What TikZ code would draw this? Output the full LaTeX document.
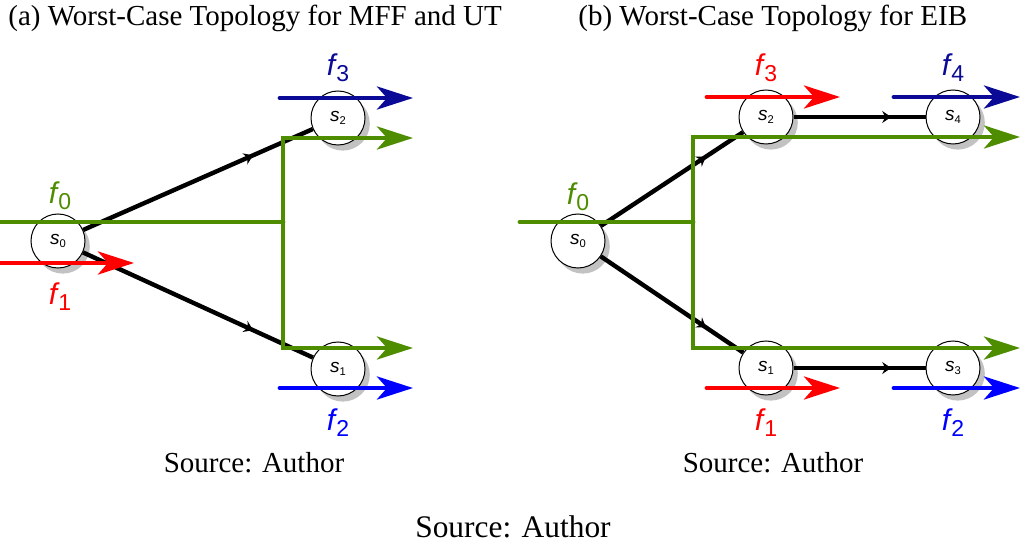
\documentclass[tikz,border=0pt]{standalone}
\usepackage{fontspec}
\setmainfont{Liberation Serif}
\newfontfamily\labelfont{Liberation Sans}
\usetikzlibrary{arrows.meta,shadows,decorations.markings}

\definecolor{flowgreen}{RGB}{78,140,0}
\definecolor{flowred}{RGB}{255,0,0}
\definecolor{flowblue}{RGB}{0,0,255}
\definecolor{flownavy}{RGB}{10,10,150}

% flow and switch labels
\newcommand{\flowlab}[1]{{\itshape f}\kern0.6pt\raisebox{-3pt}{\fontsize{11.5}{12}\selectfont #1}}
\newcommand{\swlab}[1]{{\itshape s}\raisebox{-1.4pt}{\fontsize{5.6}{6}\selectfont #1}}

\tikzset{
  >=Stealth,
  every node/.append style={inner sep=0pt},
}

\begin{document}
\begin{tikzpicture}[
  x=0.5pt, y=-0.5pt,
  sw/.style   ={circle, draw, line width=0.5pt, fill=white, minimum size=27pt,
                font=\labelfont\fontsize{9.5}{10}\selectfont,
                drop shadow={shadow xshift=2.4pt, shadow yshift=-2.8pt, fill=black!24, opacity=1}},
  link/.style ={line width=2.2pt, postaction={decorate},
                decoration={markings, mark=at position 0.74 with
                  {\arrow{Stealth[length=4.5pt,width=6pt,inset=1.5pt]}}}},
  flow/.style ={line width=2.4pt, line cap=round,
                -{Stealth[length=18pt,width=11.5pt,inset=5pt]}},
  bus/.style  ={line width=2.4pt, flowgreen, line join=miter,
                {Stealth[length=18pt,width=11.5pt,inset=5pt]}-{Stealth[length=18pt,width=11.5pt,inset=5pt]}},
  lab/.style  ={font=\labelfont\fontsize{15}{18}\selectfont, anchor=base},
  captext/.style={font=\fontsize{14.5}{17}\selectfont, anchor=base}
]
\useasboundingbox (0,0) rectangle (1022,545);

% titles and sources
\node[captext, anchor=base west] (tita) at (8,26) {(a) Worst-Case Topology for MFF and UT};
\node[captext, anchor=base west] (titb) at (578,26) {(b) Worst-Case Topology for EIB};
\node[captext] (srca) at (254,472) {Source: Author};
\node[captext] (srcb) at (773,472) {Source: Author};
\node[captext, font=\fontsize{15.7}{18}\selectfont] (srcall) at (513,537) {Source: Author};

% switches, panel (a)
\node[sw] (s0a) at (58,241) {\swlab{0}};
\node[sw] (s2a) at (338,118) {\swlab{2}};
\node[sw] (s1a) at (338,369) {\swlab{1}};

% switches, panel (b)
\node[sw] (s0b) at (578,241) {\swlab{0}};
\node[sw] (s2b) at (766,117) {\swlab{2}};
\node[sw] (s1b) at (766,368) {\swlab{1}};
\node[sw] (s4b) at (953,117) {\swlab{4}};
\node[sw] (s3b) at (953,368) {\swlab{3}};

% links
\foreach \a/\b in {s0a/s2a, s0a/s1a, s0b/s2b, s0b/s1b, s2b/s4b, s1b/s3b}{
  \draw[link] (\a) -- (\b);
}

% flow end points, panel (a)
\coordinate (f0a-in)  at (0,222);
\coordinate (f0a-j)   at (283,222);
\coordinate (f0a-t)   at (283,138);
\coordinate (f0a-b)   at (283,348);
\coordinate (f0a-to)  at (413,138);
\coordinate (f0a-bo)  at (413,348);
\coordinate (f1a-in)  at (0,263);
\coordinate (f1a-out) at (134,263);
\coordinate (f3a-in)  at (280,98);
\coordinate (f3a-out) at (413,98);
\coordinate (f2a-in)  at (280,388);
\coordinate (f2a-out) at (413,388);

% flow end points, panel (b)
\coordinate (f0b-in)  at (520,222);
\coordinate (f0b-j)   at (693,222);
\coordinate (f0b-t)   at (693,137);
\coordinate (f0b-b)   at (693,348);
\coordinate (f0b-to)  at (1020,137);
\coordinate (f0b-bo)  at (1020,348);
\coordinate (f3b-in)  at (707,97);
\coordinate (f3b-out) at (840,97);
\coordinate (f4b-in)  at (894,97);
\coordinate (f4b-out) at (1020,97);
\coordinate (f1b-in)  at (707,388);
\coordinate (f1b-out) at (840,388);
\coordinate (f2b-in)  at (894,388);
\coordinate (f2b-out) at (1020,388);

% flows, panel (a)
\draw[line width=2.4pt, line cap=round, flowgreen] (f0a-in) -- (f0a-j);
\draw[bus] (f0a-to) -- (f0a-t) -- (f0a-b) -- (f0a-bo);
\draw[flow, flowred]  (f1a-in) -- (f1a-out);
\draw[flow, flownavy] (f3a-in) -- (f3a-out);
\draw[flow, flowblue] (f2a-in) -- (f2a-out);

% flows, panel (b)
\draw[line width=2.4pt, line cap=round, flowgreen] (f0b-in) -- (f0b-j);
\draw[bus] (f0b-to) -- (f0b-t) -- (f0b-b) -- (f0b-bo);
\draw[flow, flowred]  (f3b-in) -- (f3b-out);
\draw[flow, flownavy] (f4b-in) -- (f4b-out);
\draw[flow, flowred]  (f1b-in) -- (f1b-out);
\draw[flow, flowblue] (f2b-in) -- (f2b-out);

% flow labels
\node[lab, flowgreen] (f0la) at (60,204)  {\flowlab{0}};
\node[lab, flowred]   (f1la) at (60,304)  {\flowlab{1}};
\node[lab, flownavy]  (f3la) at (338,76)  {\flowlab{3}};
\node[lab, flowblue]  (f2la) at (338,430) {\flowlab{2}};
\node[lab, flowgreen] (f0lb) at (578,205) {\flowlab{0}};
\node[lab, flowred]   (f3lb) at (766,76)  {\flowlab{3}};
\node[lab, flownavy]  (f4lb) at (953,76)  {\flowlab{4}};
\node[lab, flowred]   (f1lb) at (766,430) {\flowlab{1}};
\node[lab, flowblue]  (f2lb) at (953,430) {\flowlab{2}};

\end{tikzpicture}
\end{document}
